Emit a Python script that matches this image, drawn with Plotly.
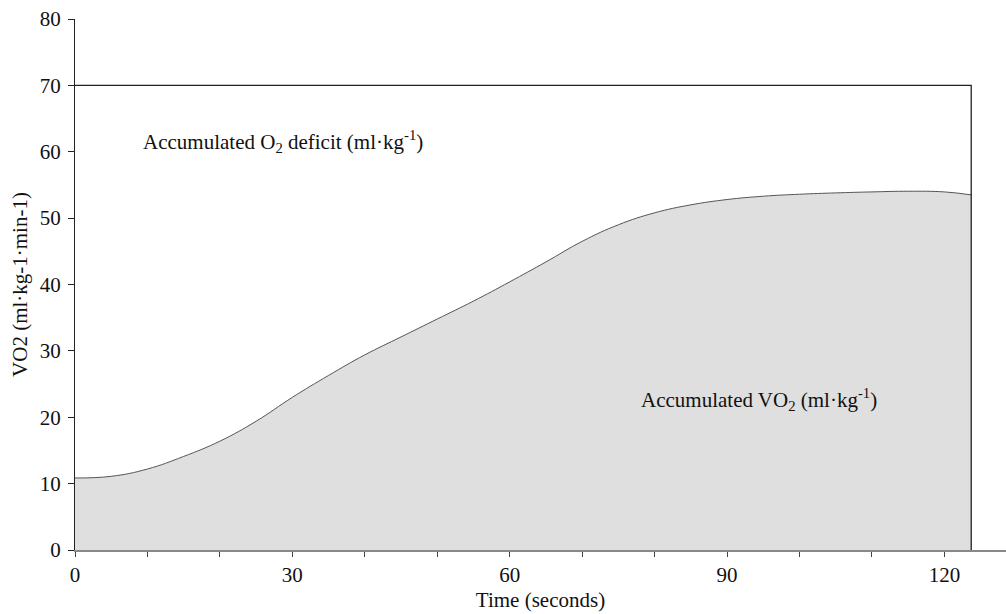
import plotly.graph_objects as go

time_s = [0, 5, 10, 15, 20, 25, 30, 35, 40, 45, 50, 55, 60, 65, 70, 75, 80, 85, 90, 95, 100, 105, 110, 115, 120, 123.7]
vo2 = [10.85, 11.1, 12.2, 14.1, 16.4, 19.4, 23.0, 26.3, 29.4, 32.1, 34.8, 37.5, 40.4, 43.4, 46.5, 49.0, 50.8, 52.0, 52.8, 53.3, 53.6, 53.8, 53.95, 54.05, 53.95, 53.5]

box_x = [0, 123.7, 123.7]
box_y = [70, 70, 0]

x_ticks = [0, 30, 60, 90, 120]
y_ticks = [0, 10, 20, 30, 40, 50, 60, 70, 80]

font_family = "Liberation Serif"

fig = go.Figure()
fig.add_trace(go.Scatter(
    x=time_s, y=vo2, mode="lines", fill="tozeroy",
    fillcolor="#dfdfdf", line=dict(color="#555555", width=1, shape="spline", smoothing=1.2),
    showlegend=False, hoverinfo="skip"))
fig.add_trace(go.Scatter(
    x=box_x, y=box_y, mode="lines",
    line=dict(color="#222222", width=1.3),
    showlegend=False, hoverinfo="skip"))

fig.add_annotation(x=9.1, y=61.6, xanchor="left", yanchor="middle", showarrow=False,
                   text="Accumulated O<sub>2</sub> deficit (ml·kg<sup>-1</sup>)",
                   font=dict(family=font_family, size=21, color="#111111"))
fig.add_annotation(x=77.8, y=22.6, xanchor="left", yanchor="middle", showarrow=False,
                   text="Accumulated VO<sub>2</sub> (ml·kg<sup>-1</sup>)",
                   font=dict(family=font_family, size=21, color="#111111"))

fig.update_layout(
    width=1006, height=614,
    margin=dict(l=75, r=0, t=19, b=64),
    paper_bgcolor="white", plot_bgcolor="white",
    font=dict(family=font_family, size=21, color="#111111"),
    xaxis=dict(range=[0, 128.5], tickvals=x_ticks, showgrid=False, zeroline=False,
               showline=True, linecolor="#888888", linewidth=1.5,
               ticks="outside", ticklen=5, tickcolor="#444444",
               minor=dict(dtick=10, tick0=0, ticks="outside", ticklen=5, tickcolor="#444444"),
               tickfont=dict(size=21),
               title=dict(text="Time (seconds)", standoff=6, font=dict(size=21))),
    yaxis=dict(range=[0, 80], tickvals=y_ticks, showgrid=False, zeroline=False,
               showline=True, linecolor="#222222", linewidth=1.2,
               ticks="outside", ticklen=6, tickcolor="#222222",
               tickfont=dict(size=21), ticklabelstandoff=3,
               title=dict(text="VO2 (ml·kg-1·min-1)", standoff=6, font=dict(size=21))),
)

fig.write_html("out.html")
